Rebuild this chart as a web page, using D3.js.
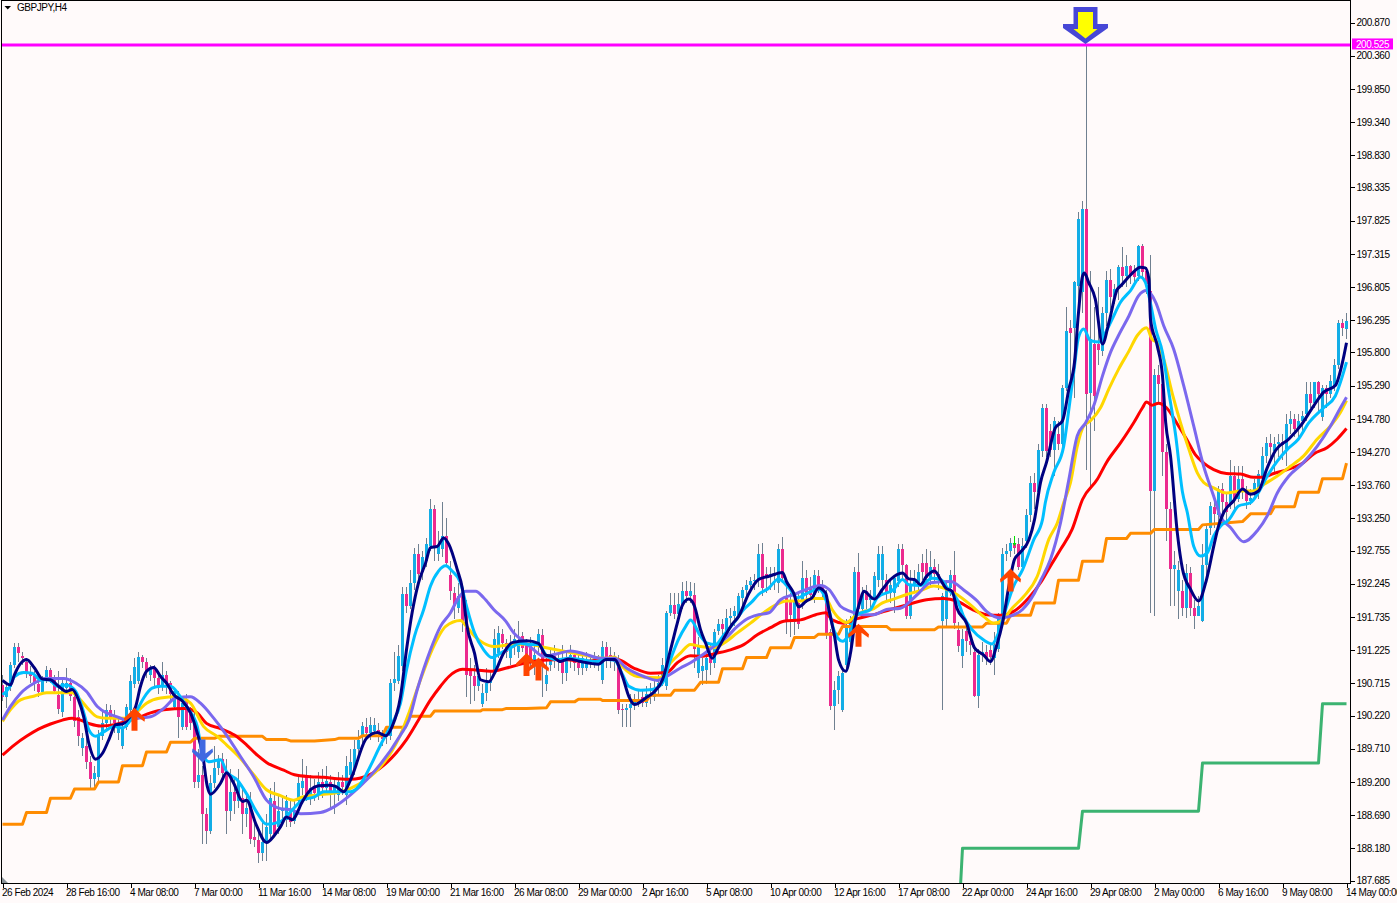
<!DOCTYPE html>
<html><head><meta charset="utf-8">
<script src="https://cdn.jsdelivr.net/npm/d3@7"></script>
<style>
html,body{margin:0;padding:0;background:#fffafa;overflow:hidden}
svg{display:block}
text{font-family:"Liberation Sans",Arial,sans-serif;font-size:10px;letter-spacing:-.45px;fill:#000}
</style></head><body><svg id="c" width="1397" height="903"></svg>
<script>
const symbolTitle="GBPJPY,H4";
const dateLabels=["26 Feb 2024","28 Feb 16:00","4 Mar 08:00","7 Mar 00:00","11 Mar 16:00","14 Mar 08:00","19 Mar 00:00","21 Mar 16:00","26 Mar 08:00","29 Mar 00:00","2 Apr 16:00","5 Apr 08:00","10 Apr 00:00","12 Apr 16:00","17 Apr 08:00","22 Apr 00:00","24 Apr 16:00","29 Apr 08:00","2 May 00:00","6 May 16:00","9 May 08:00","14 May 00:00"];
const priceTicks=[200.87,200.36,199.85,199.34,198.83,198.335,197.825,197.315,196.805,196.295,195.8,195.29,194.78,194.27,193.76,193.25,192.755,192.245,191.735,191.225,190.715,190.22,189.71,189.2,188.69,188.18,187.685];
const levelPrice=200.525;

const opens=[
190.69,190.50,190.66,191.00,191.28,191.13,191.05,190.87,190.82,190.70,190.58,190.77,190.92,190.78,190.54,190.28,
190.64,190.72,190.50,190.20,189.72,189.75,189.50,189.25,189.28,189.90,190.10,190.30,190.20,189.95,189.75,190.05,
190.30,190.70,190.75,191.12,191.05,190.85,190.93,190.80,190.67,190.85,190.72,190.35,190.50,190.05,190.45,190.25,
190.15,189.20,189.30,188.70,188.45,189.18,189.42,189.55,189.33,188.75,189.05,188.90,188.95,188.70,188.90,188.35,
188.30,188.10,188.28,188.40,188.90,188.50,188.75,188.62,188.75,188.60,188.90,189.10,189.30,189.00,189.10,189.00,
189.20,189.10,189.20,189.05,189.00,189.20,189.00,189.30,189.40,189.70,189.90,190.05,189.95,189.98,190.00,189.94,
189.90,189.90,190.72,190.75,190.98,192.09,191.90,192.25,192.70,192.42,192.60,192.82,193.40,192.70,192.78,192.98,
192.38,192.10,191.87,192.10,191.85,190.90,190.83,190.68,190.40,190.56,190.72,190.90,191.18,191.48,191.33,191.10,
191.33,191.20,191.44,191.30,191.30,191.06,191.28,191.45,190.70,191.00,191.13,191.10,191.08,190.88,191.08,191.15,
191.02,190.95,190.95,191.08,191.03,191.10,190.77,191.28,191.15,191.08,191.08,190.32,190.30,190.33,190.40,190.48,
190.50,190.42,190.55,190.50,190.65,190.72,190.68,191.80,191.92,191.78,191.93,192.13,192.05,192.08,190.88,190.90,
190.92,191.15,191.02,191.52,191.62,191.50,191.72,191.75,191.77,192.03,192.15,192.22,192.28,192.30,192.70,192.40,
192.35,192.40,192.25,192.78,192.02,191.98,191.65,191.95,191.98,192.33,192.20,192.08,192.36,192.20,192.05,191.50,
190.37,190.62,190.30,191.00,191.35,191.75,192.43,191.85,192.13,192.00,192.03,192.30,192.30,192.30,192.10,192.10,
192.28,192.78,192.53,191.75,192.23,192.25,192.56,192.56,192.33,192.50,192.40,191.67,191.70,192.18,192.38,191.54,
191.13,191.52,191.36,191.20,190.52,191.15,191.20,191.22,191.10,191.25,191.75,192.70,192.75,192.87,192.86,192.50,
192.90,193.30,193.80,193.65,194.29,194.94,194.60,194.30,194.55,194.40,195.25,196.18,196.18,196.82,196.73,198.00,
195.18,195.93,195.93,195.82,196.41,196.91,196.65,196.80,197.12,196.97,197.13,197.05,196.97,197.43,197.05,196.75,
193.67,195.46,195.31,194.27,193.39,192.47,192.13,192.13,191.87,192.41,191.87,191.75,191.68,192.54,193.10,193.42,
193.30,193.70,193.50,193.45,193.90,193.55,193.86,193.67,193.52,193.65,193.65,193.90,194.21,194.41,194.28,194.39,
194.42,194.31,194.70,194.78,194.63,194.74,194.85,195.16,195.03,195.34,194.80,195.26,195.16,195.29,195.60,196.25,
196.16];
const highs=[
190.85,190.72,191.05,191.34,191.34,191.20,191.10,190.98,190.90,190.78,190.82,190.98,190.95,190.85,190.90,190.80,
190.95,190.80,190.60,190.30,189.95,189.90,189.60,189.45,190.00,190.30,190.40,190.38,190.30,190.20,190.15,190.40,
190.85,191.10,191.20,191.15,191.10,191.00,191.00,190.85,191.05,190.90,190.75,190.65,190.60,190.50,190.55,190.35,
190.30,189.70,189.45,188.80,189.30,189.75,189.62,189.65,189.55,189.40,189.25,189.40,189.10,189.00,189.05,188.60,
188.50,188.60,188.70,189.10,189.20,189.00,189.00,189.00,188.90,188.90,189.30,189.55,189.45,189.30,189.25,189.35,
189.40,189.45,189.30,189.25,189.35,189.30,189.60,189.70,189.85,190.00,190.12,190.18,190.20,190.18,190.10,190.00,
190.05,190.78,191.20,191.30,192.20,192.20,192.45,192.80,192.85,192.75,192.95,193.55,193.45,193.05,193.50,193.25,
192.60,192.20,192.25,192.20,192.00,191.10,191.00,190.95,190.70,190.95,190.90,191.55,191.60,191.55,191.40,191.45,
191.55,191.68,191.50,191.40,191.42,191.35,191.55,191.55,191.10,191.25,191.30,191.20,191.30,191.20,191.30,191.20,
191.15,191.20,191.20,191.15,191.20,191.15,191.37,191.35,191.28,191.20,191.15,190.40,190.40,190.55,190.55,190.60,
190.62,190.68,190.72,190.80,190.85,191.10,191.82,192.10,192.10,192.10,192.27,192.28,192.27,192.25,191.42,191.10,
191.20,191.30,191.55,191.70,191.70,191.85,191.87,191.90,192.10,192.20,192.30,192.35,192.40,192.85,192.87,192.50,
192.50,192.50,192.85,192.97,192.20,192.10,192.10,192.10,192.60,192.45,192.35,192.45,192.45,192.30,192.15,191.55,
190.75,190.90,190.95,191.70,191.75,192.50,192.72,192.20,192.22,192.15,192.42,192.82,192.82,192.40,192.30,192.38,
192.85,192.85,192.55,192.45,192.45,192.55,192.70,192.78,192.75,192.62,192.55,192.10,192.30,192.45,192.75,191.65,
191.55,191.60,191.50,191.30,191.25,191.35,191.30,191.30,191.50,191.80,192.80,192.85,192.95,192.95,192.95,192.95,
193.40,193.90,193.95,194.40,195.00,195.00,194.70,194.80,194.75,195.30,196.50,196.30,196.90,197.96,198.13,200.53,
197.05,196.50,196.80,196.50,197.05,197.08,196.85,197.15,197.42,197.30,197.15,197.15,197.45,197.47,197.12,197.30,
195.55,195.60,195.50,194.40,193.50,192.75,192.60,192.30,192.55,192.50,192.00,192.05,192.85,193.15,193.50,193.55,
193.75,193.80,193.65,194.15,194.05,194.05,194.05,193.75,193.70,193.85,194.00,194.35,194.50,194.55,194.50,194.55,
194.55,194.85,194.90,194.85,194.85,194.90,195.35,195.35,195.35,195.36,195.30,195.30,195.45,195.70,196.30,196.32,
196.41];
const lows=[
190.45,190.33,190.60,190.95,191.05,191.00,190.80,190.72,190.60,190.50,190.55,190.72,190.72,190.55,190.25,190.20,
190.60,190.45,190.05,189.75,189.60,189.40,189.10,189.12,189.20,189.85,190.00,190.05,189.95,189.85,189.70,190.00,
190.25,190.65,190.70,190.95,190.80,190.75,190.65,190.55,190.60,190.55,190.45,190.30,189.87,190.00,190.00,190.00,
189.10,189.10,188.25,188.25,188.40,189.10,189.30,189.20,188.40,188.60,188.70,188.80,188.40,188.50,188.25,188.20,
187.95,187.98,187.98,188.30,188.35,188.40,188.60,188.50,188.50,188.55,188.85,189.00,188.90,188.85,188.90,188.92,
188.95,189.00,188.80,188.70,188.90,189.00,188.85,189.20,189.30,189.60,189.80,189.85,189.85,189.90,189.82,189.75,
189.78,189.85,190.60,190.70,190.90,191.80,191.85,192.15,192.30,192.30,192.50,192.75,192.60,192.60,192.65,192.50,
192.00,191.70,191.80,191.50,190.50,190.40,190.45,190.60,190.35,190.45,190.60,190.85,191.10,191.25,191.10,191.00,
191.15,191.10,191.20,191.00,190.95,190.85,191.15,190.50,190.60,190.90,190.95,190.90,190.70,190.75,190.95,190.90,
190.85,190.85,190.90,190.95,190.95,190.90,190.70,190.95,190.95,190.90,190.25,190.05,190.05,190.05,190.30,190.35,
190.35,190.35,190.40,190.45,190.55,190.68,190.62,191.75,191.70,191.70,191.85,191.95,191.95,190.95,190.80,190.69,
190.70,190.85,190.95,191.45,191.42,191.40,191.55,191.60,191.70,191.90,192.00,192.10,192.15,192.20,192.05,192.10,
192.15,192.15,192.10,192.30,191.47,191.42,191.45,191.55,191.85,191.95,192.00,191.95,192.10,192.00,191.40,190.30,
190.00,190.40,190.28,190.90,191.25,191.70,191.75,191.75,191.85,191.85,191.95,192.20,192.10,192.00,191.95,191.80,
192.20,192.30,191.70,191.70,192.10,192.10,192.30,192.20,192.20,192.25,192.15,190.30,191.60,192.05,191.55,191.20,
190.95,191.20,191.15,190.50,190.33,191.05,191.00,191.00,190.85,191.20,191.70,192.60,192.65,192.70,192.45,192.45,
192.80,193.20,193.40,193.60,194.20,194.20,194.20,193.90,194.30,194.35,195.20,195.00,195.10,196.50,196.40,194.00,
193.75,194.60,195.60,195.75,196.20,196.45,196.55,196.60,196.80,196.80,196.85,196.85,196.90,196.95,196.70,191.80,
191.75,195.00,193.90,192.90,191.90,191.90,191.70,191.75,191.72,191.75,191.55,191.75,191.65,192.35,193.00,193.10,
193.10,193.35,193.20,193.40,193.40,193.50,193.55,193.40,193.45,193.55,193.55,193.85,194.10,194.20,193.95,194.20,
194.15,194.05,194.55,194.50,194.50,194.60,194.75,194.95,194.95,194.90,194.75,194.95,195.10,195.20,195.55,196.05,
196.00];
const closes=[
190.50,190.66,191.00,191.28,191.18,191.10,190.87,190.83,190.72,190.58,190.77,190.92,190.79,190.60,190.32,190.72,
190.72,190.52,190.13,189.90,189.88,189.50,189.25,189.33,189.90,190.10,190.30,190.20,190.10,190.10,190.05,190.35,
190.75,190.96,191.12,191.05,190.90,190.95,190.80,190.65,190.85,190.70,190.55,190.60,190.20,190.41,190.05,190.10,
189.20,189.30,188.70,188.45,189.18,189.42,189.55,189.33,188.75,189.05,188.90,189.20,188.70,188.80,188.33,188.30,
188.10,188.28,188.50,188.95,188.40,188.75,188.80,188.90,188.58,188.75,189.18,189.22,189.00,189.10,189.03,189.20,
189.10,189.22,189.05,189.15,189.20,189.12,189.45,189.50,189.70,189.85,190.06,189.95,190.08,190.08,189.94,189.86,
189.92,190.72,190.78,191.13,192.09,191.90,192.25,192.70,192.40,192.65,192.85,193.40,192.82,192.82,192.98,192.57,
192.13,191.90,192.05,191.65,190.85,190.82,190.68,190.82,190.56,190.72,190.75,191.40,191.49,191.33,191.20,191.33,
191.40,191.35,191.26,191.10,191.06,191.15,191.48,191.00,190.85,191.13,191.10,191.05,190.88,191.08,191.15,191.02,
190.95,191.10,191.08,191.03,191.10,191.00,191.28,191.08,191.08,191.05,190.30,190.30,190.33,190.40,190.48,190.45,
190.42,190.55,190.50,190.65,190.72,191.00,191.80,191.92,191.78,191.93,192.13,192.05,192.13,191.25,191.30,190.98,
191.10,191.02,191.50,191.62,191.55,191.72,191.75,191.82,192.05,192.15,192.22,192.28,192.30,192.70,192.18,192.35,
192.40,192.36,192.78,192.33,191.69,191.76,192.00,191.62,192.33,192.08,192.08,192.38,192.20,192.10,191.45,190.37,
190.62,190.82,190.88,191.60,191.70,192.43,191.85,192.10,192.00,192.02,192.36,192.70,192.70,192.10,192.22,192.33,
192.78,192.53,191.75,192.23,192.30,192.43,192.43,192.33,192.50,192.40,192.38,192.05,192.18,192.38,191.64,191.29,
191.39,191.36,191.30,190.52,191.15,191.20,191.10,191.12,191.30,191.75,192.70,192.75,192.87,192.80,192.50,192.82,
193.30,193.80,193.65,194.30,194.94,194.29,194.30,194.75,194.40,195.25,196.13,196.10,196.88,197.85,198.00,195.16,
196.00,195.13,195.83,196.41,196.91,196.65,196.78,197.12,196.97,197.13,196.98,196.96,197.43,197.03,196.85,193.67,
195.46,195.31,194.27,193.39,192.47,192.53,192.45,191.87,192.41,191.87,191.75,191.90,192.54,193.08,193.44,193.31,
193.70,193.50,193.35,193.90,193.55,193.86,193.67,193.52,193.56,193.80,193.93,194.21,194.41,194.34,194.39,194.42,
194.37,194.70,194.78,194.62,194.74,194.83,195.16,195.03,195.34,195.16,195.26,195.16,195.36,195.60,196.25,196.18,
196.28];

const orangeBars=[0,5,6,11,12,17,18,23,24,29,30,35,36,41,42,47,48,53,54,65,66,71,72,78,83,84,89,90,95,96,100.7,101.6,107,108,119.5,120,125,126,131,136,137,143,144,149.5,150,161,162,167,168,173,174.5,179,180,185,186,191,192,197,198,203,204,209,210,221,222,233,234,245,246,251,252,257,258,263,264,269,270,275,276,281,282,287,288,299,300,310,312,317,318,323,324,329,330,335,336];
const orangeVals=[188.55,188.55,188.73,188.73,188.95,188.95,189.09,189.09,189.20,189.20,189.45,189.45,189.66,189.66,189.81,189.81,189.87,189.87,189.90,189.90,189.85,189.85,189.83,189.83,189.85,189.87,189.87,189.91,189.91,190.04,190.04,190.21,190.21,190.29,190.29,190.31,190.31,190.33,190.33,190.34,190.43,190.43,190.47,190.47,190.45,190.45,190.53,190.53,190.61,190.61,190.73,190.73,190.94,190.94,191.11,191.11,191.26,191.26,191.42,191.42,191.47,191.47,191.59,191.59,191.54,191.54,191.58,191.58,191.64,191.64,191.76,191.76,191.95,191.95,192.30,192.30,192.59,192.59,192.94,192.94,193.02,193.02,193.08,193.08,193.15,193.20,193.32,193.32,193.43,193.43,193.65,193.65,193.86,193.86,194.10];

const greenBars=[239.5,240,269,270,299,300,329,330,336];
const greenVals=[187.60,188.18,188.18,188.75,188.75,189.49,189.49,190.40,190.40];

const redBars=[0,3,6,9,12,15,17.4,19.5,22,24.5,28,31,33.7,37,40.3,45.8,48.7,51,54.5,58,61,63.7,66,70.3,73,77,80.3,83.7,87,101,104,107,109.5,111.6,115,118.3,122,126,131,135.3,140.3,145.3,150.3,153.7,157.8,162,166,168.7,172,174.5,178.7,182,185.3,188.7,192,195.3,199.5,203.3,205.8,207.4,210.3,213.7,217.8,222,226,231,235.3,238.6,242.4,246,249.5,252.8,256.6,259.5,262,264.5,267.4,270,273.7,276,279.5,282.8,285,286,287.4,289,291,293.7,296,298.2,300.3,302.8,306,309.5,312.8,315,317.8,321.2,325.3,327.8,331.2,333.7,336];
const redVals=[189.61,189.77,189.90,190.01,190.09,190.15,190.18,190.15,190.09,190.06,190.08,190.13,190.18,190.26,190.31,190.33,190.26,190.10,190.02,189.92,189.77,189.61,189.50,189.38,189.31,189.28,189.27,189.25,189.24,189.85,190.15,190.46,190.67,190.82,190.93,190.92,190.90,190.95,191.03,191.07,191.08,191.05,191.08,191.08,190.95,190.87,190.88,191.03,191.14,191.13,191.18,191.23,191.31,191.46,191.57,191.67,191.69,191.77,191.80,191.69,191.64,191.71,191.77,191.85,191.92,192.00,192.02,191.98,191.85,191.77,191.76,191.82,192.03,192.26,192.52,192.77,193.08,193.54,193.85,194.11,194.41,194.72,194.95,195.04,194.99,195.02,194.95,194.70,194.47,194.23,194.10,194.00,193.94,193.93,193.88,193.88,193.94,194.00,194.11,194.24,194.34,194.47,194.63];

const goldBars=[0,2,4.5,8,11,14.5,17.4,19.5,21.6,23.7,26,28.7,31,33.3,36,39.5,43.7,47,50.3,53.7,56,59.5,62.8,66,69.5,72.8,75,78.7,83,87,99.3,101.6,104.5,107.4,110.8,114.5,116,118,120.3,122.8,127,131,135.3,140.3,145.3,150.3,153,155,158.7,164.5,167,169.5,172,174.5,177.8,180.3,183.7,187,190.3,193.3,196,199.5,202.8,205.8,207.4,209,211,213,215.3,217.4,220,222.8,226,229.5,232.8,235.3,238.6,242,245.3,247.8,250,252.4,255.3,258.7,261.6,263.7,265.3,267,268.7,270.3,272,274.5,276.6,279,281.6,283.7,286,287.4,288.7,290.3,292.4,294.5,296.6,298.7,300.3,302.8,306,309.5,312.8,315.3,318.7,322,325.3,328.7,332,334.5,336];
const goldVals=[190.13,190.31,190.46,190.52,190.57,190.57,190.57,190.46,190.31,190.20,190.18,190.18,190.18,190.26,190.41,190.49,190.51,190.41,190.05,189.90,189.77,189.56,189.31,189.08,188.99,188.92,188.97,189.00,189.03,189.10,189.90,190.26,190.77,191.23,191.59,191.68,191.59,191.44,191.33,191.28,191.31,191.32,191.27,191.21,191.15,191.10,191.12,190.97,190.82,190.80,191.03,191.18,191.31,191.28,191.26,191.33,191.49,191.64,191.80,191.92,191.98,191.98,192.02,192.02,191.85,191.72,191.65,191.74,191.82,191.85,191.95,192.01,192.08,192.14,192.21,192.18,192.08,191.92,191.74,191.64,191.69,191.87,192.05,192.36,192.93,193.18,193.49,193.80,194.36,194.67,194.75,194.95,195.24,195.54,195.82,196.06,196.18,196.00,195.95,195.70,195.18,194.72,194.31,193.95,193.80,193.72,193.64,193.67,193.67,193.77,193.90,194.05,194.21,194.47,194.67,194.88,195.06];

const purpleBars=[0,2,4.5,8,11,15.3,18.3,21,23.7,26,28.7,30.8,33.7,37,40.3,43.3,47,49.5,52.8,56,59.5,62.8,66,69.5,72.4,74.5,79.5,83,87,99.5,101.6,103.7,107,109.5,112,114,115.8,118.3,120.3,122.8,125.8,127.8,130.3,132.8,135.3,138.7,142,145.3,149.5,153,156,160.3,163.7,166,169.5,172,174.5,177.8,180.8,183.7,186,189,191.6,194.5,197.8,201,204.5,206.6,209.5,212,215.3,217.8,221,224.5,228.7,232,237,240.3,243.7,246,249.5,251.6,255,257.8,259.5,262,264.5,266.6,268.7,270.8,272.8,275,277,279,281.6,284,286,288.3,290.3,292.8,295.3,297.8,300.3,302.8,304.5,307,310.3,313.7,316.2,318.7,321.6,325.3,328.7,332,334.5,336];
const purpleVals=[190.15,190.36,190.56,190.72,190.79,190.79,190.72,190.59,190.36,190.26,190.20,190.15,190.18,190.20,190.33,190.49,190.51,190.41,190.18,189.92,189.59,189.28,188.92,188.79,188.77,188.71,188.73,188.82,189.00,189.92,190.15,190.62,191.23,191.59,191.80,192.03,192.13,192.13,192.03,191.85,191.67,191.49,191.36,191.23,191.13,191.17,191.21,191.17,191.10,191.10,190.95,190.82,190.76,190.82,190.95,191.03,191.13,191.28,191.41,191.59,191.70,191.77,191.80,192.00,192.08,192.16,192.22,192.16,191.90,191.82,191.77,191.77,191.85,191.87,192.08,192.26,192.28,192.15,191.98,191.82,191.72,191.74,191.85,192.08,192.29,192.62,193.18,193.85,194.52,194.72,194.98,195.44,195.80,196.06,196.36,196.67,196.75,196.57,196.21,195.85,195.29,194.67,194.05,193.59,193.28,193.11,192.89,193.06,193.29,193.64,193.90,194.11,194.36,194.67,194.95,195.11];

const cyanBars=[0,1.6,3,5.3,7.4,9.5,11.6,13.7,16,18.3,20,21.6,23.3,25.3,28,30,32,33.7,35.3,37.4,39.5,42,44,46,48.7,50,51.6,54.5,56,58.7,61,63.7,66,69.5,72,75,78,80.3,83.3,87,95.3,97.4,99.5,101,103,105.3,107,109,110.8,112.4,114.5,116,118,120.3,122.4,124.5,127,129.5,132,134,136,138.7,141.6,144.5,148.7,151,153,155,156.6,159.5,162.4,165,167,169,170.8,172,174.5,176.2,178.3,180.3,182.8,185.3,187.4,189,191.6,194,196.6,198.7,201.2,204,206.6,207.8,210,211.6,213.7,217,218.7,222.8,225,226.6,229.5,232.4,234.5,236.6,238.7,240.3,242.4,245.3,247.4,249,250.8,252.8,255,257.8,260,260.7,262.8,265.3,266.6,267.8,269,270.3,272,274.5,275.8,277.4,279.5,282,284.5,285.7,286.6,288.3,290,291.6,293.3,295,296.2,297.8,299.5,301.2,302.8,304.5,306.6,309,312,314,316.2,318.7,321.2,324,326.6,330.3,333.2,335,336];
const cyanVals=[190.54,190.64,190.82,190.88,190.87,190.77,190.77,190.67,190.69,190.59,190.33,190.00,189.90,189.97,190.05,190.03,190.15,190.31,190.49,190.64,190.67,190.67,190.55,190.36,190.05,189.64,189.51,189.54,189.36,189.23,189.02,188.72,188.55,188.59,188.74,188.92,188.97,189.05,189.05,189.05,189.86,190.10,190.41,190.92,191.44,191.85,192.21,192.44,192.52,192.44,192.26,191.90,191.49,191.23,191.11,191.18,191.26,191.33,191.31,191.31,191.14,191.08,191.10,191.08,191.05,191.08,191.07,190.85,190.67,190.61,190.62,190.72,191.08,191.39,191.59,191.69,191.44,191.33,191.31,191.46,191.64,191.85,191.97,192.08,192.18,192.32,192.18,192.03,192.10,192.16,191.85,191.54,191.36,191.46,191.77,191.85,192.03,192.16,192.31,192.23,192.22,192.33,192.31,192.15,192.00,191.74,191.54,191.38,191.32,191.49,191.85,192.21,192.46,192.92,193.23,193.49,193.95,194.36,194.93,195.49,196.03,196.16,195.98,195.96,196.11,196.31,196.57,196.75,196.96,196.88,196.67,196.16,195.80,195.18,194.52,193.65,193.34,192.82,192.67,192.72,192.98,193.13,193.23,193.44,193.49,193.65,193.90,194.13,194.31,194.47,194.72,194.95,195.13,195.44,195.65];

const navyBars=[0,2,3,6,8,10,12,14,16,17.4,19,20.3,21.6,23.3,25,26.6,28.3,30,31.6,33.3,34.5,36,37.8,39.5,41,42.8,45,47,48.7,50,51.2,52,54.5,56,57.8,60,61,63.3,66,68,69.5,71,72.4,75,77,79,81.6,83.3,85.3,87,91,93.7,95.8,97.4,99.5,101,102.4,104,105.8,107,108.7,110.3,111.6,113.7,115,116,118,119.5,121.6,123,125.3,127.4,131,134,135.8,137.4,139.5,141.6,144.5,149,150.8,153,155,156.6,158,160.8,163,165,167,168.7,170,171.6,173,174.5,175.8,177.4,179,180.8,182.4,184,186.6,189,191.6,195,196,197.8,199,201,202.4,204,205.8,206.6,208,209,210.8,212,213.2,214.5,215.3,218,220,222,225,226.6,228,229.5,231,233,234.5,235.8,237.4,238.6,241,243,245.3,247,248.6,250,251.6,253,254.5,256.6,258,259.5,261,263.2,265,266.6,268,269,270,270.5,271.5,273.2,275,276.6,278.7,279.5,282,284.5,285.7,286.6,287,288.7,290,290.8,292,293.7,295,297,299,301,302.8,304,305.3,307.8,310,312,314,316,318.2,321.6,324.5,327.8,330.3,333.2,335,336];
const navyVals=[190.76,190.69,190.85,191.08,190.95,190.78,190.77,190.67,190.59,190.62,190.46,190.20,189.79,189.55,189.64,189.85,190.08,190.09,190.18,190.36,190.67,190.90,190.96,190.82,190.72,190.54,190.44,190.26,189.95,189.64,189.13,189.01,189.18,189.34,189.18,188.90,188.92,188.56,188.27,188.38,188.51,188.66,188.62,188.90,189.08,189.14,189.15,189.13,189.05,189.23,189.87,189.96,189.91,190.05,190.51,191.23,191.80,192.26,192.57,192.80,192.82,192.95,192.85,192.46,192.16,191.64,191.18,190.77,190.74,190.87,191.18,191.34,191.37,191.33,191.15,191.13,191.05,191.09,191.05,191.01,191.08,191.08,190.82,190.51,190.39,190.49,190.59,190.77,191.23,191.64,191.92,192.01,191.90,191.54,191.33,191.10,191.26,191.46,191.62,191.74,192.10,192.31,192.36,192.42,192.28,192.10,191.89,191.98,192.03,192.18,192.10,191.85,191.44,191.08,190.90,191.18,191.69,192.00,192.13,192.01,192.16,192.31,192.41,192.32,192.31,192.23,192.36,192.44,192.31,192.18,192.13,191.87,191.64,191.26,191.15,191.05,191.31,191.64,192.21,192.62,192.73,192.92,193.23,193.80,194.11,194.64,194.75,195.24,195.65,196.41,196.97,197.02,196.88,196.62,195.93,196.26,196.77,196.82,196.99,197.11,197.10,196.93,196.31,195.90,195.44,194.72,194.21,193.03,192.47,192.16,191.98,192.31,192.82,193.13,193.34,193.52,193.70,193.62,193.67,194.00,194.29,194.47,194.67,194.98,195.19,195.29,195.65,195.95];

const upArrowBars=[33,131,134,214,252];
const upArrowPrices=[190.34,191.18,191.11,191.63,192.48];
const downArrowBars=[50];
const downArrowPrices=[189.50];
const smallDownBars=[253];
const smallDownPrices=[192.98];
const peakArrowBars=[271];
const peakArrowPrices=[200.54];

const W=1397,H=903,plotR=1350,plotB=884;
const x=d3.scaleLinear().domain([0,336]).range([2,1346]);
const y=d3.scaleLinear().domain([187.685,200.87]).range([880.5,22.5]);
const svg=d3.select("#c");
svg.append("rect").attr("width",W).attr("height",H).attr("fill","#fffafa");
svg.append("defs").append("clipPath").attr("id","plot").append("rect").attr("x",1).attr("y",1).attr("width",plotR-1).attr("height",plotB-1);
const g=svg.append("g").attr("clip-path","url(#plot)");

const bars=d3.range(closes.length);
g.append("g").selectAll("rect").data(bars).join("rect")
 .attr("x",i=>x(i)).attr("width",1).attr("y",i=>y(highs[i])).attr("height",i=>Math.max(1,y(lows[i])-y(highs[i])))
 .attr("fill","#708090").attr("shape-rendering","crispEdges");
g.append("g").selectAll("rect").data(bars).join("rect")
 .attr("x",i=>x(i)-1).attr("width",3)
 .attr("y",i=>y(Math.max(opens[i],closes[i])))
 .attr("height",i=>Math.max(1,Math.abs(y(opens[i])-y(closes[i]))))
 .attr("fill",i=>closes[i]>=opens[i]?"#13ade6":"#ec2a8e")
 .attr("shape-rendering","crispEdges");

function drawLine(bs,vs,color,curve){
  const pts=bs.map((b,i)=>[b,vs[i]]);
  g.append("path").datum(pts).attr("fill","none").attr("stroke",color).attr("stroke-width",3)
   .attr("stroke-linejoin","round")
   .attr("d",d3.line().x(d=>x(d[0])+.5).y(d=>y(d[1])).curve(curve)(pts));
}
drawLine(orangeBars,orangeVals,"#ff8c00",d3.curveLinear);
drawLine(greenBars,greenVals,"#3cb371",d3.curveLinear);
drawLine(redBars,redVals,"#ff0000",d3.curveMonotoneX);
drawLine(goldBars,goldVals,"#ffd700",d3.curveMonotoneX);
drawLine(purpleBars,purpleVals,"#7b68ee",d3.curveMonotoneX);
drawLine(cyanBars,cyanVals,"#00bfff",d3.curveMonotoneX);
drawLine(navyBars,navyVals,"#000080",d3.curveMonotoneX);

// level line
g.append("line").attr("x1",0).attr("x2",plotR).attr("y1",y(levelPrice)).attr("y2",y(levelPrice)).attr("stroke","#ff00ff").attr("stroke-width",3);

const upShape="M0,0L10.5,10.5L10,14L3,9L3,23L-3,23L-3,9L-10,14L-10.5,10.5Z";
const downShape="M0,0L10.5,-10.5L10,-14L3,-9L3,-23L-3,-23L-3,-9L-10,-14L-10.5,-10.5Z";
g.append("g").selectAll("path").data(upArrowBars).join("path").attr("d",upShape).attr("fill","#ff4500")
 .attr("transform",(b,i)=>`translate(${x(b)+.5},${y(upArrowPrices[i])})`);
g.append("g").selectAll("path").data(downArrowBars).join("path").attr("d",downShape).attr("fill","#4169e1")
 .attr("transform",(b,i)=>`translate(${x(b)+.5},${y(downArrowPrices[i])})`);
g.append("g").selectAll("path").data(smallDownBars).join("path").attr("d","M-.5,0L.5,0L.5,7L2,7L0,10L-2,7L-.5,7Z").attr("fill","#00e000")
 .attr("transform",(b,i)=>`translate(${x(b)+.5},${y(smallDownPrices[i])})`);
const pk=g.append("g").selectAll("g").data(peakArrowBars).join("g")
 .attr("transform",(b,i)=>`translate(${x(b)-.5},${y(peakArrowPrices[i])})`);
pk.append("path").attr("d","M0,0L22.5,-16L22.5,-20L12,-20L12,-37L-12,-37L-12,-20L-22.5,-20L-22.5,-16Z").attr("fill","#4747d6");
pk.append("path").attr("d","M0,-5.5L12,-15L7.5,-15L7.5,-32L-7.5,-32L-7.5,-15L-12,-15Z").attr("fill","#ffff00");

// frame
svg.append("path").attr("d",`M1.5,0V${plotB-.5}H${plotR+.5}V0M1,.5H${plotR+.5}`).attr("fill","none").attr("stroke","#000").attr("shape-rendering","crispEdges");
svg.append("path").attr("d",`M2,${plotB-7}L8,${plotB-1}L2,${plotB-1}Z`).attr("fill","#8a9298");

// axes
const axR=svg.append("g").attr("transform",`translate(${plotR+.5},0)`).call(d3.axisRight(y).tickValues(priceTicks).tickFormat(d3.format(".3f")).tickSize(4).tickPadding(2));
axR.select(".domain").remove();
axR.selectAll("line").attr("stroke","#000").attr("shape-rendering","crispEdges");
axR.selectAll("text").attr("font-size",null).attr("font-family",null);
const axB=svg.append("g").attr("transform",`translate(0.5,${plotB-.5})`).call(d3.axisBottom(x).tickValues(d3.range(0,337,16)).tickFormat((d,i)=>dateLabels[i]).tickSize(4).tickPadding(1));
axB.select(".domain").remove();
axB.selectAll("line").attr("stroke","#000").attr("shape-rendering","crispEdges");
axB.selectAll("text").attr("text-anchor","start").attr("x",-1);

// level label
const ly=y(levelPrice);
svg.append("rect").attr("x",1352).attr("y",ly-6.5).attr("width",41).attr("height",11).attr("fill","#ff00ff");
svg.append("text").attr("x",1356).attr("y",ly+3).style("fill","#fff").text(levelPrice.toFixed(3));

// title
svg.append("path").attr("d","M4.5,6H11L7.75,9.5Z").attr("fill","#000");
svg.append("text").attr("x",17).attr("y",11).text(symbolTitle);
</script></body></html>
